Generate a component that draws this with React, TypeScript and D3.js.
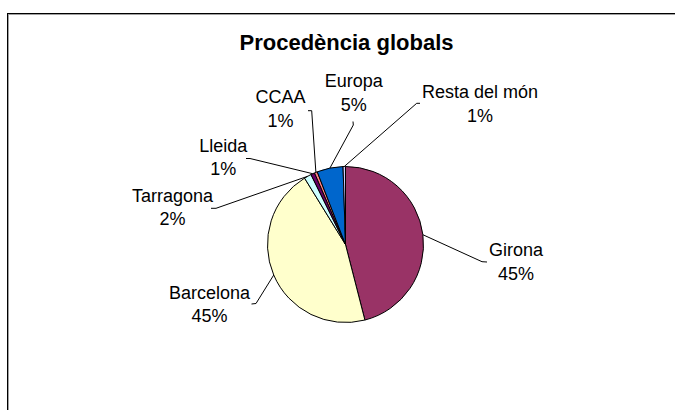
import React from "react";
import * as d3 from "d3";

// values, labels as printed on the chart
const categories = ["Girona", "Barcelona", "Tarragona", "Lleida", "CCAA", "Europa", "Resta del món"];
const shares = [46.0, 45.2, 1.5, 0.8, 0.6, 5.4, 0.5];
const percentLabels = ["45%", "45%", "2%", "1%", "1%", "5%", "1%"];
const sliceColours = ["#993366", "#FFFFCC", "#CCFFFF", "#660066", "#FF8080", "#0066CC", "#CCCCFF"];

const layout = {
    width: 675,
    height: 410,
    cx: 345.5,
    cy: 244.5,
    radius: 78,
    lineGap: 23.5
};

// label anchor (centre x, first baseline) and leader-line elbow / tail per category
const labelPlacement: Record<string, { x: number; y: number; elbow: [number, number]; tail: [number, number] }> = {
    "Girona": { x: 516, y: 256, elbow: [482, 261.7], tail: [487, 262] },
    "Barcelona": { x: 209.5, y: 298.5, elbow: [256, 303.5], tail: [251.5, 304] },
    "Tarragona": { x: 172.5, y: 201.7, elbow: [216, 208.3], tail: [211, 208.3] },
    "Lleida": { x: 223.3, y: 151.7, elbow: [250, 158.5], tail: [246, 158.5] },
    "CCAA": { x: 280.5, y: 103.3, elbow: [311.7, 110.7], tail: [308, 110.7] },
    "Europa": { x: 353.8, y: 87.3, elbow: [353.3, 125], tail: [353, 121.5] },
    "Resta del món": { x: 480, y: 98.3, elbow: [416.7, 103.3], tail: [420, 103.3] }
};

const font = "'Liberation Sans', Arial, Helvetica, sans-serif";

export default function App() {
    const data = categories.map((name, i) => ({
        name,
        value: shares[i],
        label: percentLabels[i],
        colour: sliceColours[i]
    }));

    const pie = d3.pie<any>().sort(null).value(d => d.value).startAngle(0).endAngle(2 * Math.PI);
    const arcs = pie(data);
    const arcGen = d3.arc<any>().innerRadius(0).outerRadius(layout.radius);
    const edgeGen = d3.arc<any>().innerRadius(layout.radius).outerRadius(layout.radius);
    const line = d3.line();

    return (
        <svg
            width={layout.width}
            height={layout.height}
            style={{ position: "absolute", left: 0, top: 0 }}
        >
            <rect x={0} y={0} width={layout.width} height={layout.height} fill="#fff" />
            {/* chart frame, runs off the right and bottom of the picture */}
            <rect x={8.5} y={14.5} width={700} height={420} fill="none" stroke="#a0a0a0" strokeWidth={1} />
            <rect x={7.5} y={13.5} width={700} height={420} fill="none" stroke="#000" strokeWidth={1} />

            <text
                x={346.5}
                y={50}
                textAnchor="middle"
                fontFamily={font}
                fontWeight="bold"
                fontSize={22}
                fill="#000"
            >
                Procedència globals
            </text>

            <g transform={`translate(${layout.cx},${layout.cy})`}>
                {arcs.map((a, i) => (
                    <path key={i} d={arcGen(a) as string} fill={a.data.colour} stroke="#000" strokeWidth={1} />
                ))}
            </g>

            {arcs.map((a, i) => {
                const p = labelPlacement[a.data.name];
                const [ex, ey] = edgeGen.centroid(a);
                const pts: [number, number][] = [[layout.cx + ex, layout.cy + ey], p.elbow, p.tail];
                return (
                    <g key={i}>
                        <path d={line(pts) as string} fill="none" stroke="#000" strokeWidth={1} />
                        <text x={p.x} y={p.y} textAnchor="middle" fontFamily={font} fontSize={18} fill="#000">
                            {a.data.name}
                        </text>
                        <text
                            x={p.x}
                            y={p.y + layout.lineGap}
                            textAnchor="middle"
                            fontFamily={font}
                            fontSize={18}
                            fill="#000"
                        >
                            {a.data.label}
                        </text>
                    </g>
                );
            })}
        </svg>
    );
}
